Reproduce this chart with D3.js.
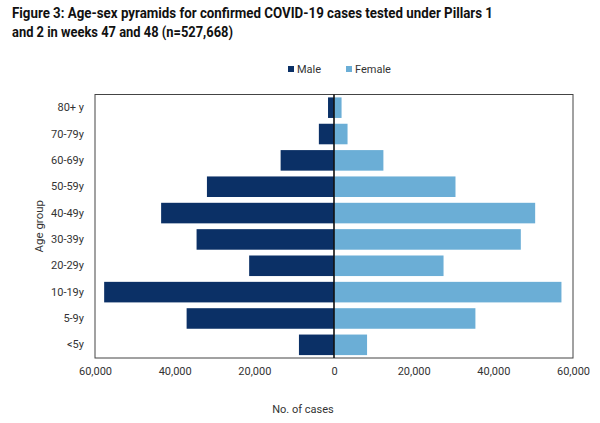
<!DOCTYPE html>
<html>
<head>
<meta charset="utf-8">
<script src="https://cdn.jsdelivr.net/npm/d3@7"></script>
<style>
  body { margin: 0; background: #fff; }
  text { font-family: Roboto, "Noto Sans", sans-serif; }
</style>
</head>
<body>
<svg></svg>
<script>
var width = 600;
var height = 423;

// age groups, top to bottom
var ageGroups = ["80+ y", "70-79y", "60-69y", "50-59y", "40-49y", "30-39y", "20-29y", "10-19y", "5-9y", "<5y"];
var maleCases = [1500, 3800, 13400, 31900, 43400, 34500, 21300, 57700, 37000, 8800];
var femaleCases = [1900, 3400, 12400, 30500, 50500, 46900, 27500, 57100, 35500, 8300];
var xTicks = [-60000, -40000, -20000, 0, 20000, 40000, 60000];

var margin = { left: 95, right: 27, top: 94.5, bottom: 65 };

var svg = d3.select("svg").attr("width", width).attr("height", height);

// title (the original uses a condensed face, so squeeze it)
var title = svg.append("text")
  .attr("font-size", "15.5px")
  .attr("font-weight", "bold")
  .attr("fill", "#111");
title.append("tspan").attr("x", 12).attr("y", 18)
  .attr("textLength", 481).attr("lengthAdjust", "spacingAndGlyphs")
  .text("Figure 3: Age-sex pyramids for confirmed COVID-19 cases tested under Pillars 1");
title.append("tspan").attr("x", 12).attr("y", 37)
  .attr("textLength", 221).attr("lengthAdjust", "spacingAndGlyphs")
  .text("and 2 in weeks 47 and 48 (n=527,668)");

var x = d3.scaleLinear()
  .domain([-60000, 60000])
  .range([margin.left, width - margin.right]);

var y = d3.scaleBand()
  .domain(ageGroups)
  .range([margin.top, height - margin.bottom])
  .paddingInner(0.22)
  .paddingOuter(0.11);

var rows = ageGroups.map(function(g, i) {
  return { group: g, male: maleCases[i], female: femaleCases[i] };
});

// bars
svg.append("g").selectAll("rect.male")
  .data(rows).enter()
  .append("rect")
  .attr("class", "male")
  .attr("x", function(d) { return x(-d.male); })
  .attr("y", function(d) { return y(d.group); })
  .attr("width", function(d) { return x(0) - x(-d.male); })
  .attr("height", y.bandwidth())
  .attr("fill", "#0b3066");

svg.append("g").selectAll("rect.female")
  .data(rows).enter()
  .append("rect")
  .attr("class", "female")
  .attr("x", x(0))
  .attr("y", function(d) { return y(d.group); })
  .attr("width", function(d) { return x(d.female) - x(0); })
  .attr("height", y.bandwidth())
  .attr("fill", "#6baed6");

// frame
svg.append("rect")
  .attr("x", margin.left)
  .attr("y", margin.top)
  .attr("width", width - margin.right - margin.left)
  .attr("height", height - margin.bottom - margin.top)
  .attr("fill", "none")
  .attr("stroke", "#444")
  .attr("stroke-width", 1);

// zero line
svg.append("line")
  .attr("x1", x(0)).attr("x2", x(0))
  .attr("y1", margin.top).attr("y2", height - margin.bottom)
  .attr("stroke", "#111")
  .attr("stroke-width", 1.6);

// x axis
var xAxis = d3.axisBottom(x)
  .tickValues(xTicks)
  .tickSize(0)
  .tickPadding(9)
  .tickFormat(function(d) { return d3.format(",")(Math.abs(d)); });

svg.append("g")
  .attr("transform", "translate(0," + (height - margin.bottom) + ")")
  .call(xAxis)
  .call(function(g) { g.select(".domain").remove(); })
  .selectAll("text")
  .attr("font-family", "Roboto, sans-serif")
  .attr("font-size", "11px")
  .attr("fill", "#333");

// y axis
var yAxis = d3.axisLeft(y).tickSize(0).tickPadding(11);
svg.append("g")
  .attr("transform", "translate(" + margin.left + ",0)")
  .call(yAxis)
  .call(function(g) { g.select(".domain").remove(); })
  .selectAll("text")
  .attr("font-family", "Roboto, sans-serif")
  .attr("font-size", "11px")
  .attr("fill", "#333");

// axis titles
svg.append("text")
  .attr("x", 303)
  .attr("y", 413)
  .attr("text-anchor", "middle")
  .attr("font-size", "11px")
  .attr("fill", "#333")
  .text("No. of cases");

svg.append("text")
  .attr("transform", "translate(43," + ((margin.top + height - margin.bottom) / 2) + ") rotate(-90)")
  .attr("text-anchor", "middle")
  .attr("font-size", "11.5px")
  .attr("fill", "#333")
  .text("Age group");

// legend
var legend = [
  { label: "Male", color: "#0b3066", x: 288 },
  { label: "Female", color: "#6baed6", x: 346 }
];
var lg = svg.append("g").selectAll("g")
  .data(legend).enter()
  .append("g")
  .attr("transform", function(d) { return "translate(" + d.x + ",66)"; });
lg.append("rect")
  .attr("width", 6).attr("height", 6)
  .attr("fill", function(d) { return d.color; });
lg.append("text")
  .attr("x", 9)
  .attr("y", 7)
  .attr("font-size", "11px")
  .attr("fill", "#333")
  .text(function(d) { return d.label; });
</script>
</body>
</html>
